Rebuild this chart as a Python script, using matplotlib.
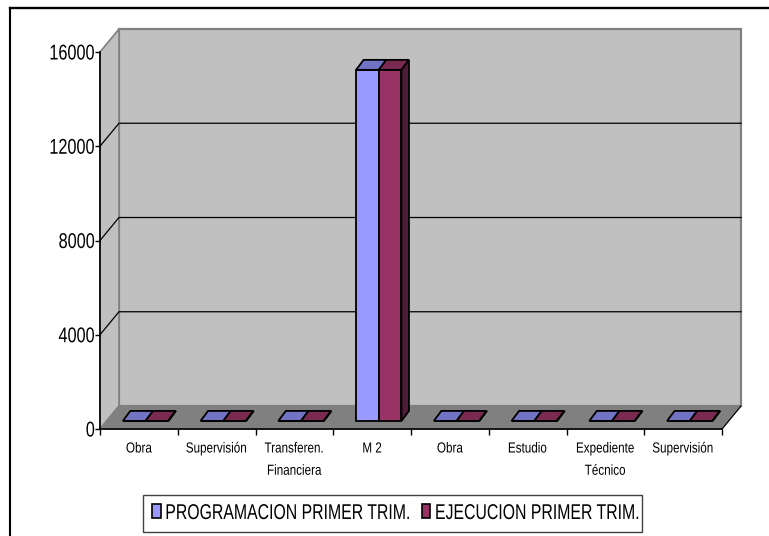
import matplotlib
matplotlib.use("Agg")
import matplotlib.pyplot as plt
from matplotlib.patches import Polygon, Patch, Rectangle
from matplotlib.lines import Line2D
from matplotlib.patheffects import AbstractPathEffect
from matplotlib.transforms import Affine2D, Bbox

categories = ["Obra", "Supervisión", "Transferen.\nFinanciera", "M 2", "Obra", "Estudio",
              "Expediente\nTécnico", "Supervisión"]
programacion = [1, 1, 1, 14900, 1, 1, 1, 1]
ejecucion = [1, 1, 1, 14900, 1, 1, 1, 1]
series_names = ["PROGRAMACION PRIMER TRIM.", "EJECUCION PRIMER TRIM."]
y_ticks = [0, 4000, 8000, 12000, 16000]


class Squeeze(AbstractPathEffect):
    """Condense the glyphs of a text horizontally (the Arial Narrow look)."""
    def __init__(self, sx, anchor="center"):
        super().__init__()
        self.sx, self.anchor = sx, anchor

    def draw_path(self, renderer, gc, tpath, affine, rgbFace=None):
        e = tpath.get_extents()
        c = {"left": e.x0, "right": e.x1, "center": (e.x0 + e.x1) / 2}[self.anchor]
        t = Affine2D().translate(-c, 0).scale(self.sx, 1).translate(c, 0) + affine
        renderer.draw_path(gc, tpath, t, rgbFace)


def report_condensed_extent(text, sx):
    """Make a left-anchored condensed text report the width it is really drawn at."""
    full_extent = text.get_window_extent

    def get_window_extent(renderer=None, dpi=None):
        b = full_extent(renderer, dpi)
        return Bbox.from_extents(b.x0, b.y0, b.x0 + b.width * sx, b.y1)

    text.get_window_extent = get_window_extent


plt.rcParams['font.family'] = ['Liberation Sans', 'DejaVu Sans']
W, H = 769, 536
fig = plt.figure(figsize=(W / 100, H / 100), dpi=100, facecolor="white")
L, R, T, B = 100, 722, 52, 429
ax = fig.add_axes([L / W, 1 - B / H, (R - L) / W, (B - T) / H])
ax.set_xlim(0, len(categories))
ax.set_ylim(0, 16000)
ax.patch.set_visible(False)

pxx = len(categories) / (R - L)
pxy = 16000 / (B - T)
DX, DY = 19 * pxx, 23 * pxy
n = len(categories)
F1 = 0.35
BW = 22.7 * pxx
SX, SY = 7.5 * pxx, 10 * pxy

# walls
ax.add_patch(Polygon([(DX, DY), (n + DX, DY), (n + DX, 16000 + DY), (DX, 16000 + DY)], closed=True,
                     fc="#C0C0C0", ec="#808080", lw=1.6, zorder=1, clip_on=False))
ax.add_patch(Polygon([(0, 0), (DX, DY), (DX, 16000 + DY), (0, 16000)], closed=True,
                     fc="#C0C0C0", ec="#808080", lw=1.2, zorder=1, clip_on=False))
ax.add_patch(Polygon([(0, 0), (n, 0), (n + DX, DY), (DX, DY)], closed=True,
                     fc="#808080", ec="#808080", lw=1, zorder=1.2, clip_on=False))
ax.plot([n, n + DX], [0, DY], color="black", lw=0.8, zorder=1.3, clip_on=False)

# gridlines
for v in y_ticks[1:-1]:
    ax.plot([0, DX, n + DX], [v, v + DY, v + DY], color="black", lw=0.9, zorder=1.5, clip_on=False)

# bars
colors = ["#9999FF", "#993366"]
tops = ["#7373C4", "#7A2950"]
sides = ["#5A5A96", "#501C38"]
for i in range(n):
    for k, vals in enumerate((programacion, ejecucion)):
        x0 = i + 0.5 + (k - 1) * BW + F1 * DX
        x1 = x0 + BW
        base = F1 * DY
        v = vals[i]
        ax.bar(x0, v, width=BW, bottom=base, align="edge", color=colors[k], edgecolor="black",
               lw=1.3, zorder=3 + k * 0.1, clip_on=False)
        ax.add_patch(Polygon([(x0, base + v), (x1, base + v), (x1 + SX, base + v + SY), (x0 + SX, base + v + SY)],
                             closed=True, fc=tops[k], ec="black", lw=1.3, zorder=3 + k * 0.1, clip_on=False))
        if k == 1:
            ax.add_patch(Polygon([(x1, base), (x1 + SX, base + SY), (x1 + SX, base + v + SY), (x1, base + v)],
                                 closed=True, fc=sides[k], ec="black", lw=1.3, zorder=3.2, clip_on=False))

# axes
for s in ("top", "right"):
    ax.spines[s].set_visible(False)
for s in ("left", "bottom"):
    ax.spines[s].set_linewidth(1.2)
    ax.spines[s].set_zorder(5)
ax.set_yticks(y_ticks)
ax.set_yticklabels([str(v) for v in y_ticks], fontsize=15.4)
ax.tick_params(axis="y", length=3.5, width=1, pad=0)
for t in ax.get_yticklabels():
    t.set_path_effects([Squeeze(0.76, "right")])
ax.set_xticks(range(n + 1))
ax.set_xticklabels([])
ax.set_xticks([i + 0.5 for i in range(n)], labels=categories, minor=True, fontsize=10.5, linespacing=1.75)
ax.tick_params(axis="x", which="major", length=4, width=1)
ax.tick_params(axis="x", which="minor", length=0, pad=9)
for t in ax.get_xticklabels(minor=True):
    t.set_path_effects([Squeeze(0.80, "center")])

# legend
fig.add_artist(Rectangle((143 / W, 1 - 532 / H), (642 - 143) / W, 37 / H, transform=fig.transFigure,
                         fc="white", ec="#404040", lw=1, zorder=1))
handles = [Patch(fc=colors[0], ec="black", lw=1.2), Patch(fc=colors[1], ec="black", lw=1.2)]
leg = fig.legend(handles, series_names, loc="center left", bbox_to_anchor=(152 / W, 1 - 513.5 / H),
                 ncol=2, fontsize=15.4, frameon=False,
                 handlelength=0.4, handleheight=0.63, handletextpad=0.2, columnspacing=-3.46,
                 borderpad=0, borderaxespad=0)
leg.set_zorder(2)
for t in leg.get_texts():
    t.set_path_effects([Squeeze(0.74, "left")])
    report_condensed_extent(t, 0.74)

# chart border
fig.add_artist(Line2D([10 / W, 10 / W], [0, 1 - 8 / H], color="black", lw=1.5))
fig.add_artist(Line2D([10 / W, 1], [1 - 8 / H, 1 - 8 / H], color="black", lw=1.7))

fig.savefig("out.png", dpi=100)
